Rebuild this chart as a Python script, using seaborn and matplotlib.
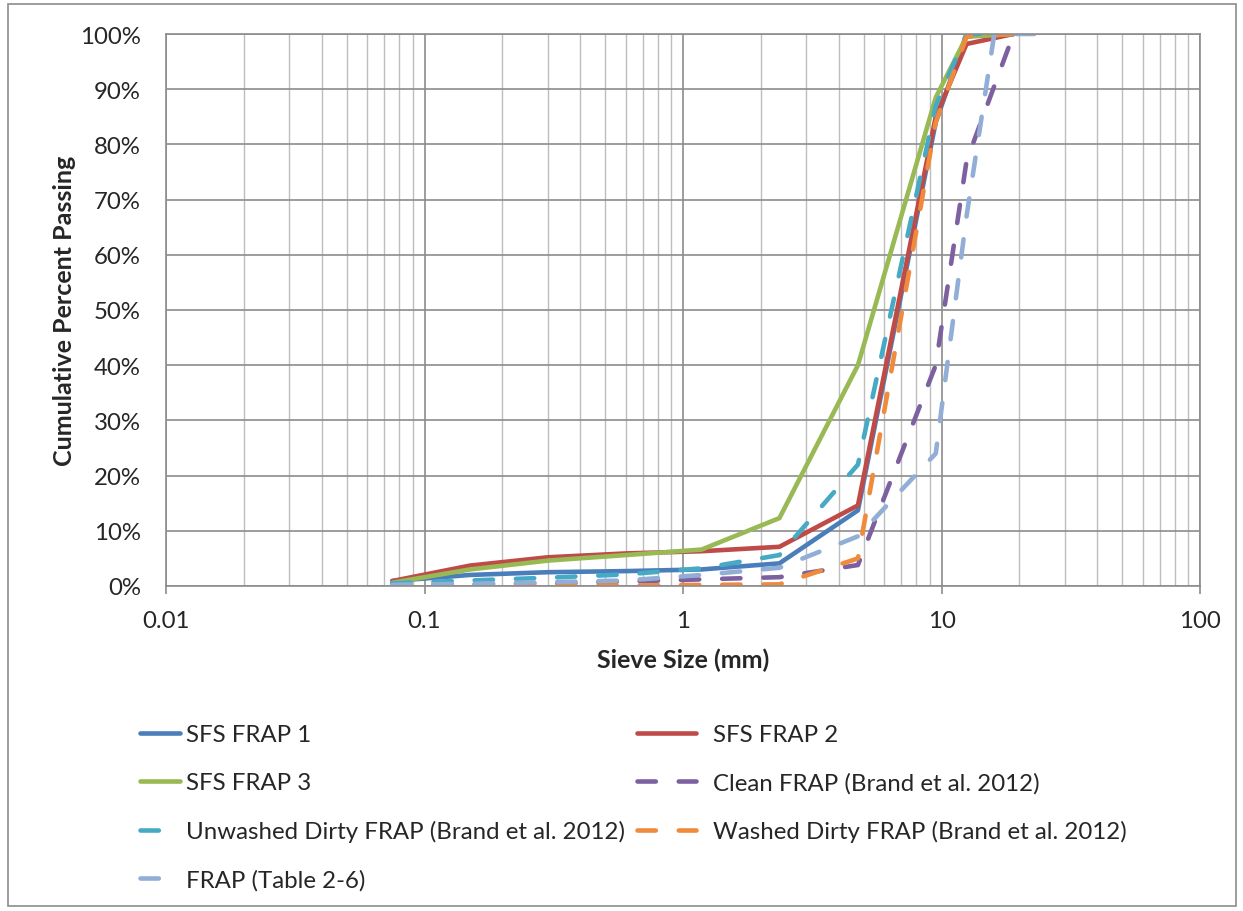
import numpy as np
import pandas as pd
import matplotlib
matplotlib.use("Agg")
import matplotlib.pyplot as plt
import seaborn as sns
from matplotlib.patches import Rectangle
from matplotlib.ticker import FixedLocator, NullFormatter, FuncFormatter

# ---- data ----
sieve_sfs = [0.075, 0.15, 0.3, 0.6, 1.18, 2.36, 4.75, 9.5, 12.5, 19]
sfs_frap_1 = [0.9, 2.0, 2.5, 2.7, 3.0, 4.1, 13.7, 84, 100, 100]
sfs_frap_2 = [0.9, 3.7, 5.2, 5.9, 6.3, 7.1, 14.6, 85, 98.2, 100]
sfs_frap_3 = [0.6, 3.0, 4.6, 5.6, 6.6, 12.3, 40, 88.5, 99.5, 100]

sieve_brand = [0.075, 0.15, 0.3, 0.6, 1.18, 2.36, 4.75, 9.5, 12.5, 19]
clean_frap = [0.2, 0.3, 0.5, 0.8, 1.2, 1.6, 3.8, 40, 77, 100]
unwashed_dirty = [0.5, 1.0, 1.5, 2.1, 3.2, 5.6, 22, 87, 100, 100]
washed_dirty = [0.1, 0.1, 0.1, 0.1, 0.2, 0.3, 5, 84, 99.5, 100]

sieve_table = [0.075, 0.15, 0.3, 0.6, 1.18, 2.36, 4.75, 9.5, 12.5, 16, 25]
frap_table = [0.2, 0.4, 0.7, 1.0, 2.0, 3.3, 9, 24, 67, 100, 100]

labels = ["SFS FRAP 1", "SFS FRAP 2", "SFS FRAP 3",
          "Clean FRAP (Brand et al. 2012)",
          "Unwashed Dirty FRAP (Brand et al. 2012)",
          "Washed Dirty FRAP (Brand et al. 2012)",
          "FRAP (Table 2-6)"]
colors = ["#4A7EBB", "#BE4B48", "#98B954", "#7D60A0", "#46AAC5", "#F08A3C", "#93AED6"]
dashed = [False, False, False, True, True, True, True]

series = [(sieve_sfs, sfs_frap_1), (sieve_sfs, sfs_frap_2), (sieve_sfs, sfs_frap_3),
          (sieve_brand, clean_frap), (sieve_brand, unwashed_dirty),
          (sieve_brand, washed_dirty), (sieve_table, frap_table)]

sns.set_theme(style="white")
plt.rcParams['font.family'] = ['Lato', 'DejaVu Sans']

FS = 17.3
W, H = 1243, 912
fig = plt.figure(figsize=(W / 100, H / 100), dpi=100)
ax = fig.add_axes([166 / W, 1 - 587 / H, (1200 - 166) / W, (587 - 35) / H])

lines = {}
for (x, y), lab, c, d in zip(series, labels, colors, dashed):
    df = pd.DataFrame({"size": x, "pct": np.array(y) / 100.0})
    sns.lineplot(data=df, x="size", y="pct", ax=ax, color=c, lw=3.3,
                 sort=False, estimator=None, label=lab, legend=False)
    ln = ax.lines[-1]
    if d:
        ln.set_dashes((4.0, 5.0))
        ln.set_dash_capstyle("round")
    else:
        ln.set_solid_capstyle("round")
    lines[lab] = ln

ax.set_xscale("log")
ax.set_xlim(0.01, 100)
ax.set_ylim(0, 1.0)

ax.xaxis.set_major_locator(FixedLocator([0.01, 0.1, 1, 10, 100]))
ax.xaxis.set_major_formatter(FuncFormatter(lambda v, p: f"{v:g}"))
minor = [m * 10.0 ** e for e in range(-2, 2) for m in range(2, 10)]
ax.xaxis.set_minor_locator(FixedLocator(minor))
ax.xaxis.set_minor_formatter(NullFormatter())
ax.yaxis.set_major_locator(FixedLocator(np.arange(0, 1.01, 0.1)))
ax.yaxis.set_major_formatter(FuncFormatter(lambda v, p: f"{v * 100:.0f}%"))

ax.grid(which="major", axis="both", color="#8C8C8C", lw=1.2)
ax.grid(which="minor", axis="x", color="#BDBDBD", lw=1.0)
ax.set_axisbelow(True)
for s in ax.spines.values():
    s.set_color("#8C8C8C")
    s.set_linewidth(1.2)

ax.tick_params(axis="x", which="major", length=6, color="#8C8C8C", width=1.2,
               labelsize=FS, pad=11, bottom=True)
ax.tick_params(axis="x", which="minor", length=0)
ax.tick_params(axis="y", which="major", length=0, labelsize=FS, pad=18)

ax.set_xlabel("Sieve Size (mm)", fontsize=18, fontweight="bold")
ax.xaxis.set_label_coords(0.5, -(649 - 587) / 552)
ax.set_ylabel("Cumulative Percent Passing", fontsize=18, fontweight="bold")
ax.yaxis.set_label_coords((76 - 166) / 1034, 0.5)

col1 = ["SFS FRAP 1", "SFS FRAP 3", "Unwashed Dirty FRAP (Brand et al. 2012)",
        "FRAP (Table 2-6)"]
col2 = ["SFS FRAP 2", "Clean FRAP (Brand et al. 2012)",
        "Washed Dirty FRAP (Brand et al. 2012)"]
common = dict(loc="upper left", frameon=False, fontsize=FS, labelspacing=1.12,
              borderpad=0, borderaxespad=0)
leg1 = fig.legend([lines[k] for k in col1], col1,
                  bbox_to_anchor=(140 / W, 1 - 725 / H),
                  handlelength=1.67, handletextpad=0.25, **common)
leg2 = fig.legend([lines[k] for k in col2], col2,
                  bbox_to_anchor=(637 / W, 1 - 725 / H),
                  handlelength=2.46, handletextpad=0.7, **common)

fig.patches.append(Rectangle((8 / W, 1 - 907 / H), (1236 - 8) / W, (907 - 5) / H,
                             transform=fig.transFigure, fill=False,
                             edgecolor="#8C8C8C", lw=1.2))

fig.savefig("out.png", dpi=100)
